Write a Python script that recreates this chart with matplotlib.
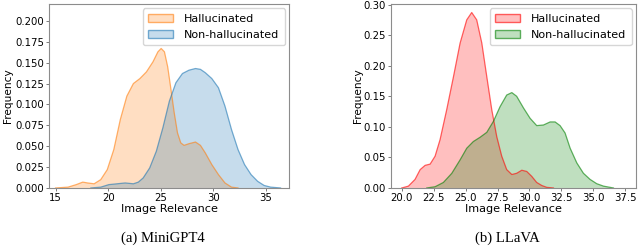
import matplotlib
matplotlib.use('Agg')
import matplotlib.pyplot as plt
from matplotlib.patches import Patch

# MiniGPT4
mg_hal_x = [15.0, 16.18, 16.96, 17.58, 18.04, 18.66, 19.29, 19.91, 20.53, 21.15, 21.77, 22.39,
            23.01, 23.63, 24.25, 24.72, 25.03, 25.34, 25.65, 25.96, 26.27, 26.58, 26.89, 27.2,
            27.67, 28.29, 28.76, 29.22, 29.84, 30.47, 31.09, 31.71, 32.33]
mg_hal_y = [0.0, 0.001, 0.004, 0.007, 0.006, 0.005, 0.010, 0.022, 0.046, 0.082, 0.110, 0.125,
            0.131, 0.139, 0.151, 0.163, 0.167, 0.163, 0.145, 0.118, 0.090, 0.066, 0.054, 0.051,
            0.053, 0.055, 0.051, 0.042, 0.028, 0.016, 0.006, 0.001, 0.0]
mg_non_x = [18.35, 19.29, 20.06, 20.84, 21.61, 22.39, 22.86, 23.32, 23.94, 24.57, 25.19, 25.81,
            26.43, 27.05, 27.67, 28.29, 28.76, 29.22, 29.84, 30.47, 31.09, 31.71, 32.33, 32.95,
            33.57, 34.19, 34.81, 35.43, 36.37]
mg_non_y = [0.0, 0.001, 0.004, 0.005, 0.006, 0.005, 0.007, 0.012, 0.024, 0.044, 0.072, 0.104,
            0.126, 0.137, 0.141, 0.143, 0.142, 0.138, 0.131, 0.120, 0.098, 0.070, 0.046, 0.028,
            0.016, 0.008, 0.003, 0.001, 0.0]

# LLaVA
ll_hal_x = [20.0, 20.52, 21.04, 21.44, 21.83, 22.22, 22.61, 23.0, 23.52, 24.05, 24.57, 25.09,
            25.48, 25.87, 26.27, 26.66, 27.05, 27.44, 27.83, 28.22, 28.62, 29.0, 29.4, 29.79,
            30.18, 30.57, 30.97, 31.36, 31.88]
ll_hal_y = [0.0, 0.003, 0.014, 0.030, 0.037, 0.039, 0.052, 0.079, 0.128, 0.182, 0.237, 0.275,
            0.287, 0.275, 0.237, 0.182, 0.128, 0.084, 0.052, 0.030, 0.022, 0.024, 0.029, 0.027,
            0.019, 0.009, 0.004, 0.001, 0.0]
ll_non_x = [21.96, 22.61, 23.26, 23.92, 24.57, 25.09, 25.61, 26.14, 26.66, 27.18, 27.7, 28.22,
            28.62, 29.0, 29.53, 30.05, 30.57, 31.1, 31.62, 32.01, 32.4, 32.79, 33.19, 33.71,
            34.23, 34.75, 35.27, 35.8, 36.58]
ll_non_y = [0.0, 0.002, 0.009, 0.024, 0.046, 0.065, 0.076, 0.083, 0.091, 0.109, 0.133, 0.152,
            0.156, 0.150, 0.131, 0.114, 0.102, 0.103, 0.108, 0.108, 0.102, 0.090, 0.065, 0.041,
            0.024, 0.014, 0.007, 0.003, 0.0]

labels = ['Hallucinated', 'Non-hallucinated']
captions = ['(a) MiniGPT4', '(b) LLaVA']


def draw_panel(ax, curves, colors, xlim, ylim, yticks, xticks, fmt, ylab_x):
    handles = []
    for (x, y), c, lab in zip(curves, colors, labels):
        ax.fill_between(x, y, 0, facecolor=c, alpha=0.25, linewidth=0)
        ax.plot(x, y, color=c, alpha=0.6, linewidth=0.9)
        handles.append(Patch(facecolor=matplotlib.colors.to_rgba(c, 0.25),
                             edgecolor=matplotlib.colors.to_rgba(c, 0.6), label=lab))
    ax.set_xlim(*xlim)
    ax.set_ylim(*ylim)
    ax.set_xticks(xticks)
    ax.set_yticks(yticks)
    ax.set_yticklabels([fmt.format(v) for v in yticks])
    ax.tick_params(labelsize=7.3, length=2.5, width=0.6, color='0.4', pad=1.2)
    ax.set_xlabel('Image Relevance', fontsize=8.1, labelpad=1)
    ax.set_ylabel('Frequency', fontsize=7.6)
    ax.yaxis.set_label_coords(ylab_x, 0.5)
    for s in ax.spines.values():
        s.set_color('0.55')
        s.set_linewidth(0.8)
    ax.legend(handles=handles, loc='upper right', fontsize=8, frameon=True,
              handlelength=2.2, handletextpad=1.0, borderpad=0.5,
              borderaxespad=0.4, framealpha=0.8)


fig = plt.figure(figsize=(6.4, 2.47), dpi=100)
ax1 = fig.add_axes([0.077, 0.239, 0.375, 0.745])
ax2 = fig.add_axes([0.611, 0.239, 0.383, 0.745])

draw_panel(ax1, [(mg_hal_x, mg_hal_y), (mg_non_x, mg_non_y)], ['tab:orange', 'tab:blue'],
           (14.4, 37.2), (0, 0.2203), [0, 0.025, 0.05, 0.075, 0.1, 0.125, 0.15, 0.175, 0.2],
           [15, 20, 25, 30, 35], '{:.3f}', -0.151)
draw_panel(ax2, [(ll_hal_x, ll_hal_y), (ll_non_x, ll_non_y)], ['red', 'green'],
           (19.16, 38.36), (0, 0.301), [0, 0.05, 0.1, 0.15, 0.2, 0.25, 0.3],
           [20.0, 22.5, 25.0, 27.5, 30.0, 32.5, 35.0, 37.5], '{:.2f}', -0.115)
ax2.set_xticklabels(['{:.1f}'.format(v) for v in ax2.get_xticks()])

fig.text(0.255, 0.02, captions[0], fontsize=10.6, family='Liberation Serif', ha='center')
fig.text(0.793, 0.02, captions[1], fontsize=10.6, family='Liberation Serif', ha='center')

fig.savefig('out.png', dpi=100)
